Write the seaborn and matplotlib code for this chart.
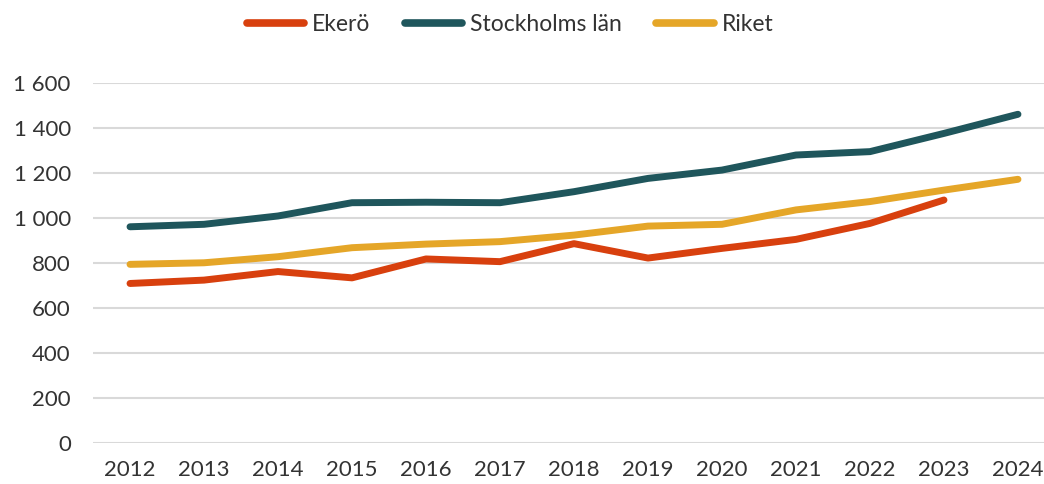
import numpy as np
import pandas as pd
import matplotlib
matplotlib.use("Agg")
import matplotlib.pyplot as plt
from matplotlib.ticker import FuncFormatter
import seaborn as sns

# Data
years = list(range(2012, 2025))
ekero = [709, 724, 762, 734, 818, 806, 886, 822, 865, 905, 976, 1080, np.nan]
stockholm = [961, 972, 1009, 1068, 1070, 1068, 1117, 1176, 1213, 1280, 1295, 1376, 1461]
riket = [794, 801, 828, 868, 884, 895, 924, 964, 972, 1036, 1073, 1124, 1172]
series_names = ["Ekerö", "Stockholms län", "Riket"]
colors = ["#D8400E", "#1F565C", "#E5A628"]

df = pd.DataFrame({"År": years, "Ekerö": ekero, "Stockholms län": stockholm, "Riket": riket})
long = df.melt(id_vars="År", var_name="Område", value_name="Värde")

sns.set_theme(style="white")
plt.rcParams["font.family"] = ["Lato", "DejaVu Sans"]

fig = plt.figure(figsize=(10.44, 4.84), dpi=100)
ax = fig.add_axes([0.0891, 0.0847, 0.9214, 0.7438])

sns.lineplot(data=long, x="År", y="Värde", hue="Område", hue_order=series_names,
             palette=colors, linewidth=5, ax=ax, sort=False)
for line in ax.get_lines():
    line.set_solid_capstyle("round")
    line.set_solid_joinstyle("round")

ax.set_xlim(2011.5, 2024.5)
ax.set_ylim(0, 1600)
ax.set_xticks(years)
ax.set_yticks(range(0, 1601, 200))
ax.yaxis.set_major_formatter(FuncFormatter(lambda v, p: f"{int(v):,}".replace(",", " ")))
ax.grid(axis="y", color="#D9D9D9", linewidth=1.5)
ax.set_axisbelow(True)
for s in ax.spines.values():
    s.set_visible(False)
ax.tick_params(axis="both", length=0, labelsize=16, labelcolor="#333333")
ax.tick_params(axis="y", pad=16)
ax.tick_params(axis="x", pad=12)
ax.set_xlabel("")
ax.set_ylabel("")

handles, labels = ax.get_legend_handles_labels()
for h in handles:
    h.set_linewidth(5.5)
    h.set_solid_capstyle("round")
leg = ax.legend(handles, labels, loc="center", bbox_to_anchor=(510 / 1044, 0.95),
                bbox_transform=fig.transFigure, ncol=3, frameon=False, fontsize=16.5,
                handlelength=2.5, handletextpad=0.35, columnspacing=1.5)
for t in leg.get_texts():
    t.set_color("#333333")

fig.savefig("out.png", dpi=100)
